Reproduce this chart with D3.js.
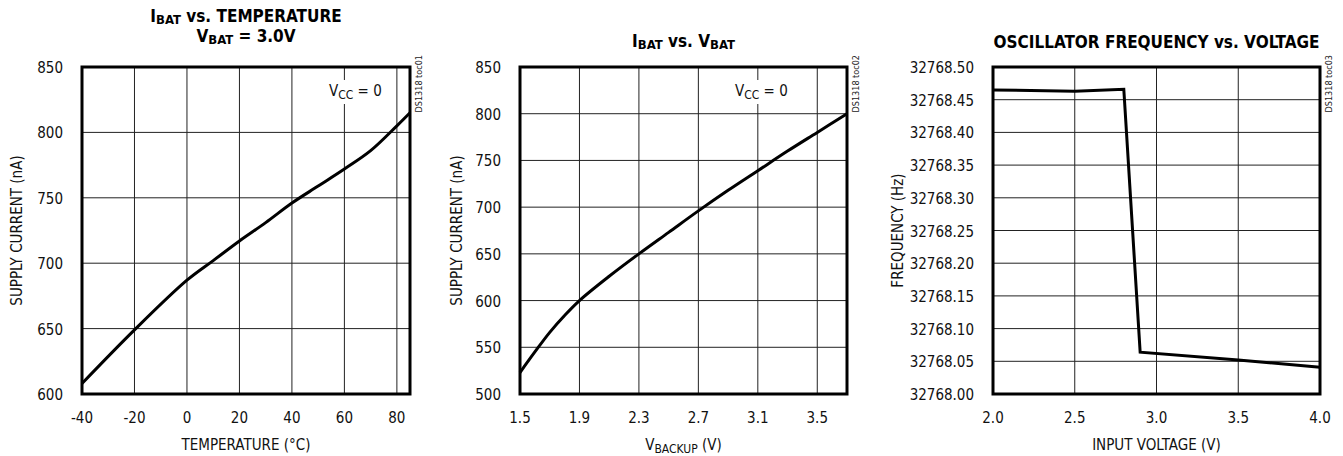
<!DOCTYPE html>
<html>
<head>
<meta charset="utf-8">
<script src="https://cdn.jsdelivr.net/npm/d3@7"></script>
<style>
  body { margin: 0; background: #fff; }
  svg { display: block; font-family: "DejaVu Sans", sans-serif; font-stretch: condensed; }
  .tick-label { font-size: 15px; fill: #111; }
  .axis-title { font-size: 15px; fill: #111; }
  .title { font-size: 17px; font-weight: bold; fill: #000; }
  .side { font-size: 9px; fill: #222; }
</style>
</head>
<body>
<div class="chart"></div>
<script>
// chart 1: IBAT vs temperature
const tempC = [-40, -20, 0, 10, 20, 30, 40, 50, 60, 70, 80, 85];
const ibatTemp = [608, 649, 687, 702, 717, 731, 746, 759, 772, 786, 805, 815];
const tempTicks = [-40, -20, 0, 20, 40, 60, 80];
const currentTicks1 = [600, 650, 700, 750, 800, 850];

// chart 2: IBAT vs VBAT
const vBackup = [1.5, 1.6, 1.7, 1.8, 1.9, 2.1, 2.3, 2.5, 2.7, 2.9, 3.1, 3.3, 3.5, 3.7];
const ibatV = [523, 545, 566, 584, 600, 626, 650, 673, 696, 718, 739, 760, 780, 800];
const vTicks = [1.5, 1.9, 2.3, 2.7, 3.1, 3.5];
const currentTicks2 = [500, 550, 600, 650, 700, 750, 800, 850];

// chart 3: oscillator frequency vs voltage
const inputV = [2.0, 2.5, 2.8, 2.9, 3.5, 4.0];
const freqHz = [32768.465, 32768.463, 32768.466, 32768.064, 32768.052, 32768.041];
const inputTicks = [2.0, 2.5, 3.0, 3.5, 4.0];
const freqTicks = [32768.00, 32768.05, 32768.10, 32768.15, 32768.20, 32768.25, 32768.30, 32768.35, 32768.40, 32768.45, 32768.50];

const svg = d3.select(".chart")
    .append("svg")
    .attr("width", 1343)
    .attr("height", 456);

function LineChart(opts) {
    const left = opts.left, right = opts.right, top = 67, bottom = 394;

    const xScale = d3.scaleLinear().domain(opts.xDomain).range([left, right]);
    const yScale = d3.scaleLinear().domain(opts.yDomain).range([bottom, top]);

    const gr = svg.append("g");

    // grid
    gr.selectAll(".vgrid")
        .data(opts.xTicks.filter(d => d > opts.xDomain[0] && d < opts.xDomain[1]))
        .join("line")
        .attr("x1", d => xScale(d)).attr("x2", d => xScale(d))
        .attr("y1", top).attr("y2", bottom)
        .attr("stroke", "#222").attr("stroke-width", 1);

    gr.selectAll(".hgrid")
        .data(opts.yTicks.filter(d => d > opts.yDomain[0] + 1e-9 && d < opts.yDomain[1] - 1e-9))
        .join("line")
        .attr("x1", left).attr("x2", right)
        .attr("y1", d => yScale(d)).attr("y2", d => yScale(d))
        .attr("stroke", "#222").attr("stroke-width", 1);

    // Vcc label with white box behind
    if (opts.vccX) {
        const t = gr.append("text")
            .attr("class", "tick-label")
            .attr("x", opts.vccX).attr("y", 96);
        t.append("tspan").text("V");
        t.append("tspan").attr("dy", 3).style("font-size", "12px").text("CC");
        t.append("tspan").attr("dy", -3).text(" = 0");
        const bb = t.node().getBBox();
        gr.insert("rect", "text")
            .attr("x", bb.x - 3).attr("y", bb.y - 2)
            .attr("width", bb.width + 6).attr("height", bb.height + 4)
            .attr("fill", "#fff");
    }

    // curve
    const line = d3.line()
        .x((d, i) => xScale(opts.xs[i]))
        .y(d => yScale(d))
        .curve(opts.smooth ? d3.curveCatmullRom : d3.curveLinear);

    gr.append("path")
        .datum(opts.ys)
        .attr("d", line)
        .attr("fill", "none")
        .attr("stroke", "#000")
        .attr("stroke-width", 3)
        .attr("stroke-linejoin", "miter");

    // frame
    gr.append("rect")
        .attr("x", left).attr("y", top)
        .attr("width", right - left).attr("height", bottom - top)
        .attr("fill", "none").attr("stroke", "#000").attr("stroke-width", 3);

    // tick labels
    gr.selectAll(".xl")
        .data(opts.xTicks)
        .join("text")
        .attr("class", "tick-label")
        .attr("x", d => xScale(d)).attr("y", 423)
        .attr("text-anchor", "middle")
        .text(opts.xFormat);

    gr.selectAll(".yl")
        .data(opts.yTicks)
        .join("text")
        .attr("class", "tick-label")
        .attr("x", left - 19).attr("y", d => yScale(d) + 6)
        .attr("text-anchor", "end")
        .text(opts.yFormat);

    // x axis title
    const xt = gr.append("text")
        .attr("class", "axis-title")
        .attr("x", (left + right) / 2).attr("y", 450)
        .attr("text-anchor", "middle");
    opts.xTitle.forEach(p => {
        const s = xt.append("tspan").text(p.t);
        if (p.sub) s.style("font-size", "12px").attr("dy", 3);
        if (p.up) s.attr("dy", -3);
    });

    // y axis title
    gr.append("text")
        .attr("class", "axis-title")
        .attr("transform", `translate(${opts.yTitleX},${(top + bottom) / 2}) rotate(-90)`)
        .attr("text-anchor", "middle")
        .text(opts.yTitle);

    // chart title lines
    opts.title.forEach((lineParts, li) => {
        const tt = gr.append("text")
            .attr("class", "title")
            .attr("x", (left + right) / 2)
            .attr("y", opts.titleY[li])
            .attr("text-anchor", "middle");
        lineParts.forEach(p => {
            const s = tt.append("tspan").text(p.t);
            if (p.sub) s.style("font-size", "13px").attr("dy", 2);
            if (p.up) s.attr("dy", -2);
        });
    });

    // side code
    gr.append("text")
        .attr("class", "side")
        .attr("transform", `translate(${right + 12},${top - 12}) rotate(-90)`)
        .attr("text-anchor", "end")
        .text(opts.code);

    return { xScale, yScale };
}

LineChart({
    left: 82, right: 410,
    xDomain: [-40, 85], yDomain: [600, 850],
    xs: tempC, ys: ibatTemp, smooth: true,
    xTicks: tempTicks, yTicks: currentTicks1,
    xFormat: d => d, yFormat: d => d,
    xTitle: [{ t: "TEMPERATURE (°C)" }],
    yTitle: "SUPPLY CURRENT (nA)", yTitleX: 22,
    title: [[{ t: "I" }, { t: "BAT", sub: true }, { t: " vs. TEMPERATURE", up: true }],
            [{ t: "V" }, { t: "BAT", sub: true }, { t: " = 3.0V", up: true }]],
    titleY: [22, 42],
    vccX: 329, code: "DS1318 toc01"
});

LineChart({
    left: 520, right: 847,
    xDomain: [1.5, 3.7], yDomain: [500, 850],
    xs: vBackup, ys: ibatV, smooth: true,
    xTicks: vTicks, yTicks: currentTicks2,
    xFormat: d3.format(".1f"), yFormat: d => d,
    xTitle: [{ t: "V" }, { t: "BACKUP", sub: true }, { t: " (V)", up: true }],
    yTitle: "SUPPLY CURRENT (nA)", yTitleX: 462,
    title: [[{ t: "I" }, { t: "BAT", sub: true }, { t: " vs. V", up: true }, { t: "BAT", sub: true }]],
    titleY: [47],
    vccX: 735, code: "DS1318 toc02"
});

LineChart({
    left: 993, right: 1320,
    xDomain: [2.0, 4.0], yDomain: [32768.0, 32768.5],
    xs: inputV, ys: freqHz, smooth: false,
    xTicks: inputTicks, yTicks: freqTicks,
    xFormat: d3.format(".1f"), yFormat: d3.format(".2f"),
    xTitle: [{ t: "INPUT VOLTAGE (V)" }],
    yTitle: "FREQUENCY (Hz)", yTitleX: 903,
    title: [[{ t: "OSCILLATOR FREQUENCY vs. VOLTAGE" }]],
    titleY: [48],
    code: "DS1318 toc03"
});
</script>
</body>
</html>
